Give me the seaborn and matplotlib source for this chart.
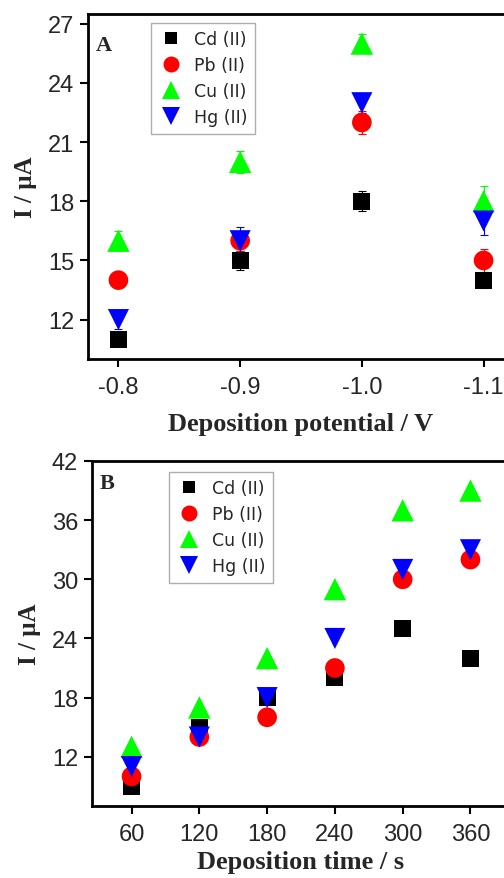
import numpy as np
import pandas as pd
import seaborn as sns
import matplotlib
matplotlib.use("Agg")
import matplotlib.pyplot as plt
from matplotlib.lines import Line2D

# ---- data ----
ions = ["Cd (II)", "Pb (II)", "Cu (II)", "Hg (II)"]
colors = ["#000000", "#ff0000", "#00ff00", "#0000ff"]
markers = ["s", "o", "^", "v"]

potential = [-0.8, -0.9, -1.0, -1.1]
cd_a = [11, 15, 18, 14]
pb_a = [14, 16, 22, 15]
cu_a = [16, 20, 26, 18]
hg_a = [12, 16, 23, 17]
cd_a_err = [0.3, 0.5, 0.5, 0.4]
pb_a_err = [0.3, 0.5, 0.6, 0.6]
cu_a_err = [0.5, 0.55, 0.5, 0.8]
hg_a_err = [0.5, 0.7, 0.5, 0.7]

time_s = [60, 120, 180, 240, 300, 360]
cd_b = [9, 15, 18, 20, 25, 22]
pb_b = [10, 14, 16, 21, 30, 32]
cu_b = [13, 17, 22, 29, 37, 39]
hg_b = [11, 14, 18, 24, 31, 33]

ticks_a_y = [12, 15, 18, 21, 24, 27]
ticks_b_y = [12, 18, 24, 30, 36, 42]
ticks_a_x = [-0.8, -0.9, -1.0, -1.1]
ticks_b_x = [60, 120, 180, 240, 300, 360]

sns.set_theme(style="white")
plt.rcParams["font.family"] = ["Liberation Sans", "DejaVu Sans"]
plt.rcParams["axes.unicode_minus"] = False

fig = plt.figure(figsize=(5.04, 8.79), dpi=100)
axA = fig.add_axes([88/504, 1 - 360/879, 426/504, 345/879])
axB = fig.add_axes([92/504, 1 - 807/879, 418/504, 345/879])

sizes = [150, 200, 260, 230]

def draw(ax, x, ys, errs=None):
    for i, (ion, y) in enumerate(zip(ions, ys)):
        df = pd.DataFrame({"x": x, "y": y})
        if errs is not None:
            ax.errorbar(x, y, yerr=errs[i], fmt="none", ecolor=colors[i],
                        elinewidth=0.8, capsize=3, capthick=0.8, zorder=2)
        sns.scatterplot(data=df, x="x", y="y", ax=ax, color=colors[i],
                        marker=markers[i], s=sizes[i], edgecolor="none",
                        linewidth=0, zorder=3, legend=False)

draw(axA, potential, [cd_a, pb_a, cu_a, hg_a],
     [cd_a_err, pb_a_err, cu_a_err, hg_a_err])
draw(axB, time_s, [cd_b, pb_b, cu_b, hg_b])

axA.set_xlim(-0.775, -1.125)
axA.set_ylim(10, 27.5)
axA.set_xticks(ticks_a_x)
axA.set_xticklabels(["-0.8", "-0.9", "-1.0", "-1.1"])
axA.set_yticks(ticks_a_y)

axB.set_xlim(25, 395)
axB.set_ylim(7, 42)
axB.set_xticks(ticks_b_x)
axB.set_yticks(ticks_b_y)

serif = ["Liberation Serif", "DejaVu Serif"]
for ax, xl, lab, anchor, lpad, lab_y in [
        (axA, "Deposition potential / V", "A", (0.148, 0.974), 10, 0.94),
        (axB, "Deposition time / s", "B", (0.184, 0.968), 4, 0.965)]:
    for side in ["left", "bottom", "top", "right"]:
        ax.spines[side].set_linewidth(2)
        ax.spines[side].set_color("black")
    ax.tick_params(axis="both", which="major", direction="out", length=6,
                   width=1.5, color="black", labelsize=17, pad=4,
                   bottom=True, left=True, top=False, right=False)
    ax.tick_params(axis="x", pad=6)
    ax.set_xlabel(xl, fontsize=19, fontweight="bold", family=serif, labelpad=lpad)
    ax.set_ylabel("I / μA", fontsize=18, fontweight="bold", family=serif, labelpad=8)
    ax.text(0.018, lab_y, lab, transform=ax.transAxes, fontsize=16,
            fontweight="bold", family=serif, va="top", ha="left")
    handles = [Line2D([], [], linestyle="none", marker=m, color=c,
                      markersize=ms, markeredgewidth=0)
               for m, c, ms in zip(markers, colors, [9, 11.5, 13.5, 13])]
    leg = ax.legend(handles, ions, loc="upper left",
                    bbox_to_anchor=anchor, borderaxespad=0,
                    frameon=True, fancybox=False,
                    edgecolor="#999999", handletextpad=0.55,
                    labelspacing=0.46, borderpad=0.42, handlelength=1.5,
                    prop={"family": ["DejaVu Sans"], "size": 12.5})
    leg.get_frame().set_linewidth(1.0)

fig.savefig("out.png", dpi=100)
